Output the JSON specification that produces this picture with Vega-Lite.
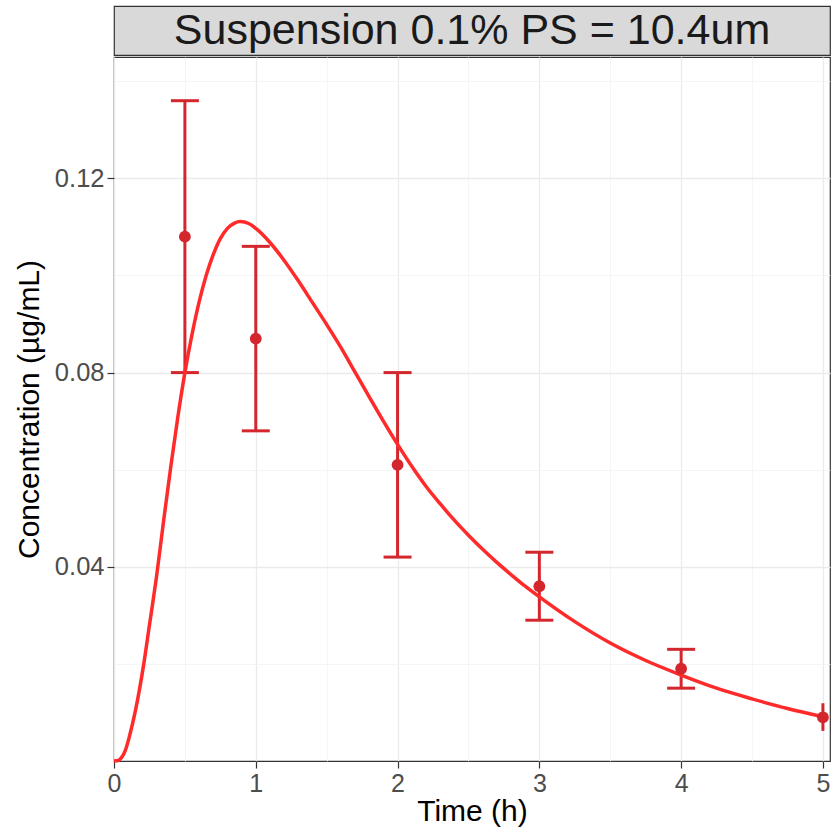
{
  "$schema": "https://vega.github.io/schema/vega-lite/v6.json",
  "padding": {"left": 13, "top": 5, "right": 0, "bottom": 0},
  "background": "white",
  "config": {"font": "Liberation Sans", "view": {"stroke": null}},
  "datasets": {
    "obs": [
      {"t": 0.5, "c": 0.108, "lo": 0.080, "hi": 0.136},
      {"t": 1, "c": 0.087, "lo": 0.068, "hi": 0.106},
      {"t": 2, "c": 0.061, "lo": 0.042, "hi": 0.080},
      {"t": 3, "c": 0.036, "lo": 0.029, "hi": 0.043},
      {"t": 4, "c": 0.019, "lo": 0.015, "hi": 0.023},
      {"t": 5, "c": 0.009, "lo": 0.0062, "hi": 0.0119}
    ],
    "curve": [
      {"t": 0, "c": 0},
      {"t": 0.03, "c": 0.0001},
      {"t": 0.05, "c": 0.0006},
      {"t": 0.08, "c": 0.0022},
      {"t": 0.11, "c": 0.0052},
      {"t": 0.15, "c": 0.0102},
      {"t": 0.21, "c": 0.0200},
      {"t": 0.25, "c": 0.0280},
      {"t": 0.30, "c": 0.0380},
      {"t": 0.35, "c": 0.0495},
      {"t": 0.40, "c": 0.0605},
      {"t": 0.45, "c": 0.0708},
      {"t": 0.50, "c": 0.0800},
      {"t": 0.55, "c": 0.0878},
      {"t": 0.60, "c": 0.0945},
      {"t": 0.65, "c": 0.1000},
      {"t": 0.70, "c": 0.1043},
      {"t": 0.75, "c": 0.1076},
      {"t": 0.80, "c": 0.1097},
      {"t": 0.85, "c": 0.1108},
      {"t": 0.89, "c": 0.1111},
      {"t": 0.95, "c": 0.1107},
      {"t": 1.0, "c": 0.1097},
      {"t": 1.1, "c": 0.1068},
      {"t": 1.2, "c": 0.1031},
      {"t": 1.3, "c": 0.0989},
      {"t": 1.4, "c": 0.0944},
      {"t": 1.5, "c": 0.0899},
      {"t": 1.6, "c": 0.0852},
      {"t": 1.7, "c": 0.0801},
      {"t": 1.8, "c": 0.0750},
      {"t": 1.9, "c": 0.0700},
      {"t": 2.0, "c": 0.0652},
      {"t": 2.1, "c": 0.0607},
      {"t": 2.2, "c": 0.0566},
      {"t": 2.3, "c": 0.0530},
      {"t": 2.4, "c": 0.0496},
      {"t": 2.5, "c": 0.0465},
      {"t": 2.6, "c": 0.0436},
      {"t": 2.7, "c": 0.0409},
      {"t": 2.8, "c": 0.0384},
      {"t": 2.9, "c": 0.0360},
      {"t": 3.0, "c": 0.0338},
      {"t": 3.25, "c": 0.0287},
      {"t": 3.5, "c": 0.0243},
      {"t": 3.75, "c": 0.0207},
      {"t": 4.0, "c": 0.0177},
      {"t": 4.25, "c": 0.0150},
      {"t": 4.5, "c": 0.0128},
      {"t": 4.75, "c": 0.0108},
      {"t": 5.0, "c": 0.0091}
    ]
  },
  "spacing": 0,
  "vconcat": [
    {
      "width": 716,
      "height": 49,
      "view": {"fill": "#d9d9d9", "stroke": "#333333", "strokeWidth": 1.2},
      "data": {"values": [{"label": "Suspension 0.1% PS = 10.4um"}]},
      "mark": {"type": "text", "fontSize": 43, "color": "#1a1a1a", "baseline": "middle", "align": "center"},
      "encoding": {"text": {"field": "label"}}
    },
    {
      "width": 716,
      "height": 704,
      "view": {"stroke": "#333333", "strokeWidth": 1.2},
      "resolve": {"axis": {"x": "independent", "y": "independent"}},
      "layer": [
        {
          "data": {"name": "obs"},
          "mark": {"type": "rule", "color": "#d3272d", "strokeWidth": 3},
          "encoding": {
            "x": {"field": "t", "type": "quantitative", "scale": {"domain": [0, 5.05], "nice": false},
              "axis": {"orient": "top", "values": [0.5, 1.5, 2.5, 3.5, 4.5], "grid": true, "gridColor": "#f2f2f2", "gridWidth": 0.8, "labels": false, "ticks": false, "domain": false, "title": null}},
            "y": {"field": "lo", "type": "quantitative", "scale": {"domain": [0, 0.145], "nice": false},
              "axis": {"orient": "right", "values": [0.02, 0.06, 0.10, 0.14], "grid": true, "gridColor": "#f2f2f2", "gridWidth": 0.8, "labels": false, "ticks": false, "domain": false, "title": null}},
            "y2": {"field": "hi"}
          }
        },
        {
          "data": {"name": "obs"},
          "transform": [{"filter": "datum.t < 5"}],
          "mark": {"type": "tick", "orient": "horizontal", "color": "#d3272d", "size": 28, "thickness": 3, "opacity": 1},
          "encoding": {
            "x": {"field": "t", "type": "quantitative", "axis": null},
            "y": {"field": "hi", "type": "quantitative", "axis": null}
          }
        },
        {
          "data": {"name": "obs"},
          "transform": [{"filter": "datum.t < 5"}],
          "mark": {"type": "tick", "orient": "horizontal", "color": "#d3272d", "size": 28, "thickness": 3, "opacity": 1},
          "encoding": {
            "x": {"field": "t", "type": "quantitative", "axis": null},
            "y": {"field": "lo", "type": "quantitative", "axis": null}
          }
        },
        {
          "data": {"name": "curve"},
          "mark": {"type": "line", "color": "#ff2a2a", "strokeWidth": 3.5, "interpolate": "monotone"},
          "encoding": {
            "x": {"field": "t", "type": "quantitative",
              "axis": {"values": [0, 1, 2, 3, 4, 5], "format": "d", "title": "Time (h)", "grid": true, "gridColor": "#ebebeb", "gridWidth": 1.3, "domain": false, "tickColor": "#333333", "tickSize": 7, "tickWidth": 1.2, "labelFontSize": 25, "labelColor": "#4d4d4d", "labelPadding": 3, "labelFlush": false, "labelOverlap": false, "titleFontSize": 30, "titleFontWeight": "normal", "titleColor": "#000000", "titlePadding": 0}},
            "y": {"field": "c", "type": "quantitative",
              "axis": {"values": [0.04, 0.08, 0.12], "format": ".2f", "title": "Concentration (µg/mL)", "grid": true, "gridColor": "#ebebeb", "gridWidth": 1.3, "domain": false, "tickColor": "#333333", "tickSize": 7, "tickWidth": 1.2, "labelFontSize": 25.5, "labelColor": "#4d4d4d", "labelPadding": 3, "labelFlush": false, "labelOverlap": false, "titleFontSize": 30, "titleFontWeight": "normal", "titleColor": "#000000", "titlePadding": 10}}
          }
        },
        {
          "data": {"name": "obs"},
          "mark": {"type": "circle", "color": "#d3272d", "size": 140, "opacity": 1},
          "encoding": {
            "x": {"field": "t", "type": "quantitative", "axis": null},
            "y": {"field": "c", "type": "quantitative", "axis": null}
          }
        }
      ]
    }
  ]
}
